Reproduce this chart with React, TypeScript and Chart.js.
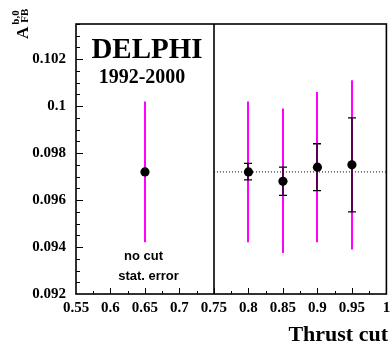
import React, { useEffect, useRef } from "react";
import { Chart, registerables } from "chart.js";

Chart.register(...registerables);

// ---- data ----
const cuts = [0.65, 0.8, 0.85, 0.9, 0.95];
const asym = [0.0972, 0.0972, 0.0968, 0.0974, 0.0975];
const statLow = [0.0942, 0.0942, 0.09375, 0.0942, 0.0939];
const statHigh = [0.1002, 0.1002, 0.0999, 0.1006, 0.1011];
const systLow: (number | null)[] = [null, 0.09686, 0.0962, 0.0964, 0.0955];
const systHigh: (number | null)[] = [null, 0.09756, 0.0974, 0.0984, 0.0995];
const refValue = 0.0972;
const refRange = [0.75, 1.0];
const separatorX = 0.75;

const xTicks = [0.55, 0.6, 0.65, 0.7, 0.75, 0.8, 0.85, 0.9, 0.95, 1.0];
const yTicks = [0.092, 0.094, 0.096, 0.098, 0.1, 0.102];
const xRange = [0.55, 1.0];
const yRange = [0.092, 0.1035];
const xMinorStep = 0.025;
const yMinorStep = 0.0005;

const fmt = (v: number) => String(parseFloat(Number(v).toFixed(4)));

const SERIF = '"Liberation Serif", "Times New Roman", serif';
const SANS = '"Liberation Sans", Arial, sans-serif';

const decoPlugin = {
  id: "deco",
  beforeDatasetsDraw(chart: any) {
    const { ctx, scales } = chart;
    const x = scales.x;
    const y = scales.y;
    ctx.save();
    // dotted reference line
    ctx.strokeStyle = "#000";
    ctx.lineWidth = 1;
    ctx.setLineDash([1, 2]);
    ctx.beginPath();
    ctx.moveTo(x.getPixelForValue(refRange[0]), y.getPixelForValue(refValue));
    ctx.lineTo(x.getPixelForValue(refRange[1]), y.getPixelForValue(refValue));
    ctx.stroke();
    ctx.setLineDash([]);

    // magenta statistical error bars
    ctx.strokeStyle = "#ff00ff";
    ctx.lineWidth = 2;
    cuts.forEach((c, i) => {
      const px = Math.round(x.getPixelForValue(c));
      ctx.beginPath();
      ctx.moveTo(px, y.getPixelForValue(statLow[i]));
      ctx.lineTo(px, y.getPixelForValue(statHigh[i]));
      ctx.stroke();
    });

    // black systematic error bars with caps
    ctx.strokeStyle = "#000";
    ctx.lineWidth = 1.3;
    cuts.forEach((c, i) => {
      const lo = systLow[i];
      const hi = systHigh[i];
      if (lo == null || hi == null) return;
      const px = Math.round(x.getPixelForValue(c));
      const y1 = y.getPixelForValue(lo);
      const y2 = y.getPixelForValue(hi);
      ctx.beginPath();
      ctx.moveTo(px, y1);
      ctx.lineTo(px, y2);
      ctx.moveTo(px - 4, y1);
      ctx.lineTo(px + 4, y1);
      ctx.moveTo(px - 4, y2);
      ctx.lineTo(px + 4, y2);
      ctx.stroke();
    });
    ctx.restore();
  },
  afterDraw(chart: any) {
    const { ctx, chartArea: a, scales } = chart;
    const x = scales.x;
    const y = scales.y;
    ctx.save();
    ctx.strokeStyle = "#000";

    // inner ticks
    ctx.lineWidth = 1;
    const nx = Math.round((xRange[1] - xRange[0]) / xMinorStep);
    for (let i = 1; i < nx; i++) {
      const v = xRange[0] + i * xMinorStep;
      const px = Math.round(x.getPixelForValue(v)) + 0.5;
      const len = i % 2 === 0 ? 6 : 3;
      ctx.beginPath();
      ctx.moveTo(px, a.bottom);
      ctx.lineTo(px, a.bottom - len);
      ctx.stroke();
    }
    const ny = Math.floor((yRange[1] - yRange[0]) / yMinorStep + 1e-6);
    for (let i = 1; i <= ny; i++) {
      const v = yRange[0] + i * yMinorStep;
      const py = Math.round(y.getPixelForValue(v)) + 0.5;
      const len = i % 4 === 0 ? 7 : 4;
      ctx.beginPath();
      ctx.moveTo(a.left, py);
      ctx.lineTo(a.left + len, py);
      ctx.stroke();
    }

    // separator line
    ctx.lineWidth = 1.6;
    const sx = Math.round(x.getPixelForValue(separatorX));
    ctx.beginPath();
    ctx.moveTo(sx, a.top);
    ctx.lineTo(sx, a.bottom);
    ctx.stroke();

    // frame
    ctx.lineWidth = 1.6;
    ctx.strokeRect(a.left, a.top, a.right - a.left, a.bottom - a.top);

    // texts
    ctx.fillStyle = "#000";
    ctx.textBaseline = "alphabetic";
    ctx.textAlign = "center";
    ctx.font = `bold 29px ${SERIF}`;
    ctx.fillText("DELPHI", 147, 58);
    ctx.font = `bold 20px ${SERIF}`;
    ctx.fillText("1992-2000", 142, 83);
    ctx.font = `bold 13px ${SANS}`;
    ctx.fillText("no cut", 143.5, 260);
    ctx.fillText("stat. error", 148.5, 280);

    ctx.textAlign = "right";
    ctx.font = `bold 22px ${SERIF}`;
    ctx.fillText("Thrust cut", 388, 341);

    // y-axis title A^{b,0}_{FB}
    ctx.save();
    ctx.translate(28, 39);
    ctx.rotate(-Math.PI / 2);
    ctx.textAlign = "left";
    ctx.font = `bold 17px ${SERIF}`;
    ctx.fillText("A", 0, 0);
    const wA = ctx.measureText("A").width;
    ctx.font = `bold 11px ${SERIF}`;
    ctx.fillText("b,0", wA + 2, -9.5);
    ctx.fillText("FB", wA + 4, 0);
    ctx.restore();

    ctx.restore();
  },
};

export default function App() {
  const ref = useRef<HTMLCanvasElement | null>(null);
  useEffect(() => {
    if (!ref.current) return;
    const chart = new Chart(ref.current, {
      type: "scatter",
      data: {
        datasets: [
          {
            data: cuts.map((c, i) => ({ x: c, y: asym[i] })),
            pointRadius: 4.6,
            pointHoverRadius: 4.6,
            pointBackgroundColor: "#000",
            pointBorderWidth: 0,
            borderColor: "#000",
          },
        ],
      },
      options: {
        animation: false,
        responsive: false,
        devicePixelRatio: 1,
        events: [],
        layout: { padding: { top: 24, right: 2, left: 0, bottom: 0 } },
        plugins: {
          legend: { display: false },
          tooltip: { enabled: false },
          title: { display: false },
        },
        scales: {
          x: {
            type: "linear",
            min: xRange[0],
            max: xRange[1],
            afterBuildTicks: (s: any) => {
              s.ticks = xTicks.map((v) => ({ value: v }));
            },
            afterFit: (s: any) => {
              s.height = 50;
              s.paddingLeft = 0;
              s.paddingRight = 0;
            },
            grid: { display: false, drawTicks: false },
            border: { display: false },
            ticks: {
              color: "#000",
              font: { family: SERIF, size: 15, weight: "bold" },
              padding: 5,
              maxRotation: 0,
              minRotation: 0,
              autoSkip: false,
              callback: (v: any) => fmt(v),
            },
          },
          y: {
            type: "linear",
            min: yRange[0],
            max: yRange[1],
            afterBuildTicks: (s: any) => {
              s.ticks = yTicks.map((v) => ({ value: v }));
            },
            afterFit: (s: any) => {
              s.width = 76;
              s.paddingTop = 0;
              s.paddingBottom = 0;
            },
            grid: { display: false, drawTicks: false },
            border: { display: false },
            ticks: {
              color: "#000",
              font: { family: SERIF, size: 15, weight: "bold" },
              padding: 10,
              autoSkip: false,
              callback: (v: any) => fmt(v),
            },
          },
        },
      } as any,
      plugins: [decoPlugin],
    });
    return () => chart.destroy();
  }, []);

  return (
    <div style={{ position: "absolute", left: 0, top: 0, width: 391, height: 344, background: "#fff" }}>
      <canvas ref={ref} width={391} height={344} style={{ display: "block" }} />
    </div>
  );
}
